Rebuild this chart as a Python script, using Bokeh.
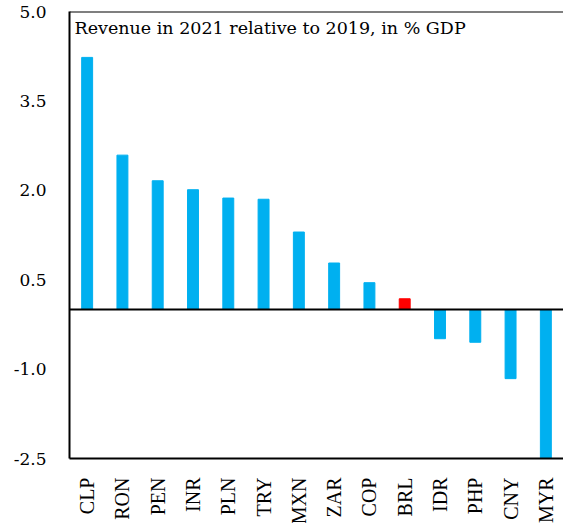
from bokeh.plotting import figure
from bokeh.models import ColumnDataSource, Span, Label, FixedTicker, Range1d
from bokeh.embed import file_html
from bokeh.resources import INLINE

currencies = ["CLP", "RON", "PEN", "INR", "PLN", "TRY", "MXN", "ZAR", "COP", "BRL", "IDR", "PHP", "CNY", "MYR"]
revenue_change = [4.23, 2.59, 2.16, 2.01, 1.87, 1.85, 1.30, 0.78, 0.45, 0.18, -0.49, -0.55, -1.16, -2.5]
highlight = "BRL"
y_ticks = [-2.5, -1.0, 0.5, 2.0, 3.5, 5.0]
annotation_text = "Revenue in 2021 relative to 2019, in % GDP"

colors = ["#FF0000" if c == highlight else "#00B0F0" for c in currencies]
src = ColumnDataSource(dict(x=currencies, top=revenue_change, color=colors))

p = figure(x_range=currencies, y_range=Range1d(y_ticks[0], y_ticks[-1]),
           frame_width=494, frame_height=447, output_backend="svg", toolbar_location=None,
           min_border_left=69, min_border_top=11, min_border_right=0, min_border_bottom=63)
p.vbar(x="x", top="top", bottom=0, width=0.31, color="color", source=src)

p.outline_line_color = None
p.xgrid.visible = False
p.ygrid.visible = False

p.yaxis.ticker = FixedTicker(ticks=y_ticks)
p.yaxis.major_label_overrides = {t: f"{t:.1f}" for t in y_ticks}
p.yaxis.major_tick_line_color = None
p.yaxis.minor_tick_line_color = None
p.yaxis.axis_line_color = "black"
p.yaxis.axis_line_width = 2
p.yaxis.major_label_standoff = 17
p.yaxis.major_label_text_font = "DejaVu Serif"
p.yaxis.major_label_text_font_size = "17px"
p.yaxis.major_label_text_color = "black"

p.xaxis.major_tick_line_color = None
p.xaxis.minor_tick_line_color = None
p.xaxis.axis_line_color = "black"
p.xaxis.axis_line_width = 2
p.xaxis.major_label_orientation = 1.5708
p.xaxis.major_label_standoff = 13
p.xaxis.major_label_text_font = "Liberation Serif"
p.xaxis.major_label_text_font_size = "20px"
p.xaxis.major_label_text_color = "black"

p.add_layout(Span(location=y_ticks[-1], dimension="width", line_color="black", line_width=2))
p.add_layout(Span(location=0, dimension="width", line_color="black", line_width=2))

p.add_layout(Label(x=0, y=y_ticks[-1], x_offset=5, y_offset=-6, text=annotation_text,
                   text_baseline="top", text_font="DejaVu Serif", text_font_size="17.5px",
                   text_color="black"))

open("out.html", "w").write(file_html(p, INLINE))
